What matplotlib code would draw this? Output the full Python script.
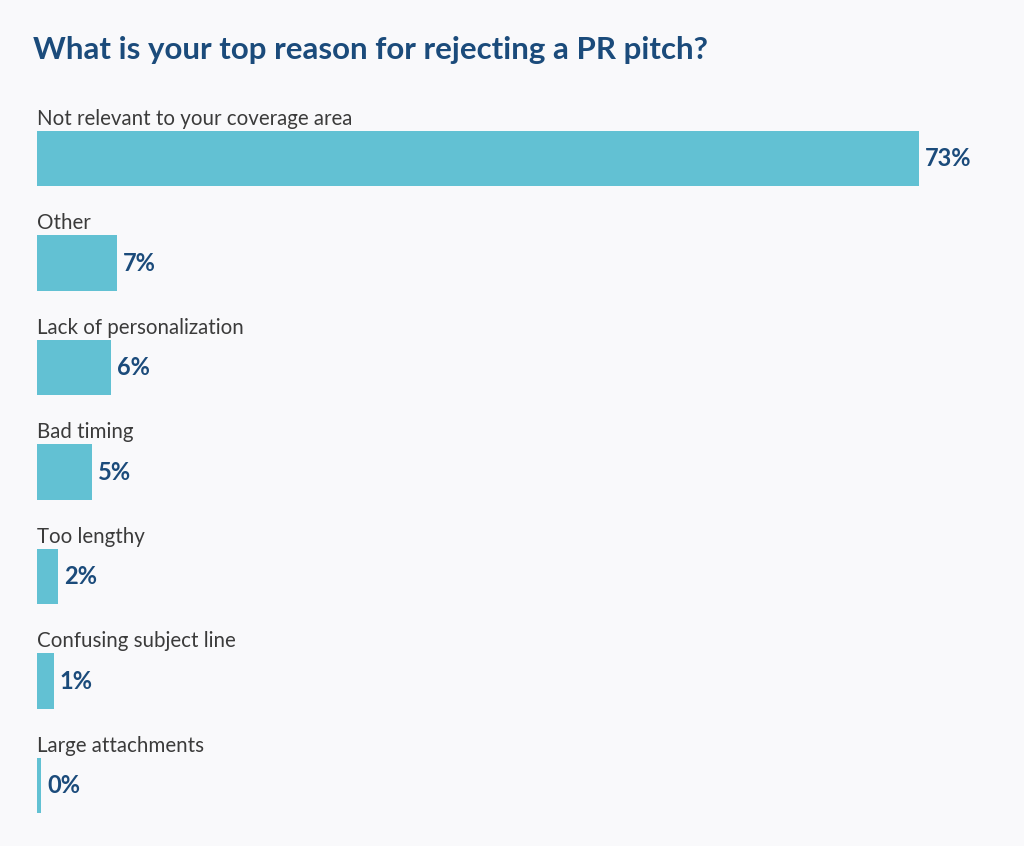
import matplotlib
matplotlib.use("Agg")
from matplotlib import pyplot as plt

categories = [
    "Not relevant to your coverage area",
    "Other",
    "Lack of personalization",
    "Bad timing",
    "Too lengthy",
    "Confusing subject line",
    "Large attachments",
]
values = [73.0, 6.6, 6.1, 4.55, 1.75, 1.4, 0.33]
value_labels = ["73%", "7%", "6%", "5%", "2%", "1%", "0%"]

bg = "#f9f9fb"
bar_color = "#62c1d3"
dark_blue = "#1b4b7b"
label_color = "#3b3b3b"

plt.rcParams['font.family'] = ['Lato', 'DejaVu Sans']

fig = plt.figure(figsize=(10.24, 8.46), dpi=100, facecolor=bg)
# axes: 0 at x=37px, 73 at x=919px; bar centres 104.5px apart
ax = fig.add_axes([37 / 1024, 6 / 846, 963 / 1024, 760 / 846])
ax.set_facecolor(bg)

bar_h = 0.53
ys = list(range(len(categories)))
ax.barh(ys, values, height=bar_h, color=bar_color, edgecolor="none")

px = 73 / 882  # data units per pixel in x
for y, v, cat, lab in zip(ys, values, categories, value_labels):
    ax.text(0, y - bar_h / 2 - 0.06, cat, ha="left", va="baseline",
            fontsize=14.8, color=label_color)
    ax.text(v + 6 * px, y, lab, ha="left", va="center",
            fontsize=17, fontweight="bold", color=dark_blue)

ax.set_xlim(0, 73 * 963 / 882)
ax.set_ylim(6.52, -0.751)
ax.axis("off")

fig.text(33 / 1024, 1 - 50 / 846, "What is your top reason for rejecting a PR pitch?",
         ha="left", va="center", fontsize=22.5, fontweight="bold", color=dark_blue)

fig.savefig("out.png", dpi=100, facecolor=bg)
